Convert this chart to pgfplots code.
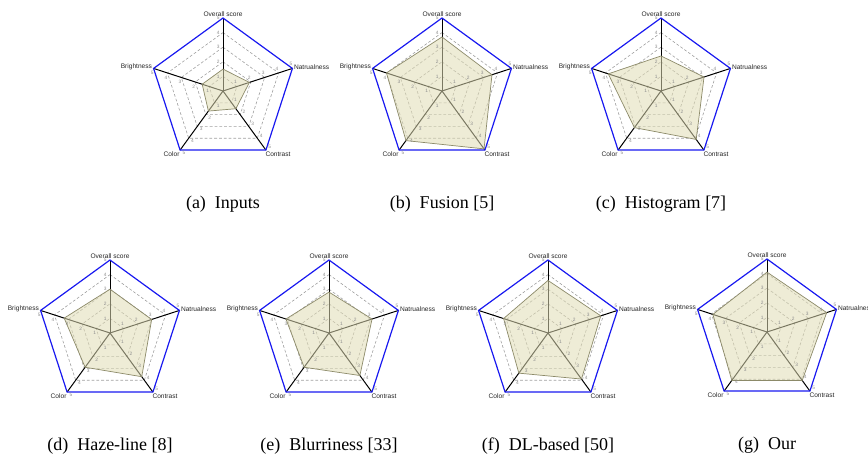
\documentclass[border=0pt]{standalone}
\usepackage{fontspec}
\setmainfont{Liberation Serif}
\newfontfamily\lsans{Liberation Sans}
\usepackage{pgfplots}
\pgfplotsset{compat=1.18}

\definecolor{fillol}{RGB}{224,220,180}
\definecolor{edgeol}{RGB}{140,138,105}
\definecolor{gridg}{RGB}{160,160,160}
\definecolor{outerblue}{RGB}{25,25,240}

\pgfplotsset{
  radar/.style={hide axis, x=7.3pt, y=7.3pt,
    xmin=-5.5, xmax=5.5, ymin=-5.5, ymax=5.5,
    clip=false, anchor=center},
}
\tikzset{
  tk/.style={font=\lsans\fontsize{2.4}{2.6}\selectfont, text=black!45, inner sep=0pt},
  lab/.style={font=\lsans\fontsize{3.3}{3.5}\selectfont, text=black!85, inner sep=0.6pt},
  grd/.style={gridg, line width=0.3pt, dash pattern=on 1.4pt off 1pt},
}

% tick number beside a spoke
\newcommand{\tklab}[2]{\node[tk] at (axis cs:{#2*cos(#1)+0.33*cos(#1+90)},{#2*sin(#1)+0.33*sin(#1+90)}) {#2};}

% #1,#2 centre in px; #3..#7 overall, naturalness, contrast, color, brightness; #8 caption
\newcommand{\radarpanel}[8]{%
\begin{axis}[radar, at={({#1*0.5pt},{(455-#2)*0.5pt})}]
  \pgfplotsinvokeforeach{1,2,3,4}{%
    \addplot[grd, data cs=polar] coordinates {(90,##1) (18,##1) (-54,##1) (-126,##1) (162,##1)} -- cycle;
  }
  \addplot[black, line width=0.5pt, data cs=polar] coordinates {(90,0) (90,5)};
  \addplot[black, line width=0.5pt, data cs=polar] coordinates {(18,0) (18,5)};
  \addplot[black, line width=0.5pt, data cs=polar] coordinates {(-54,0) (-54,5)};
  \addplot[black, line width=0.5pt, data cs=polar] coordinates {(-126,0) (-126,5)};
  \addplot[black, line width=0.5pt, data cs=polar] coordinates {(162,0) (162,5)};
  \addplot[outerblue, line width=0.6pt, data cs=polar] coordinates {(90,5) (18,5) (-54,5) (-126,5) (162,5)} -- cycle;
  \addplot[draw=edgeol, line width=0.35pt, fill=fillol, fill opacity=0.55, data cs=polar]
    coordinates {(90,#3) (18,#4) (-54,#5) (-126,#6) (162,#7)} -- cycle;
  \pgfplotsinvokeforeach{1,2,3,4,5}{%
    \tklab{90}{##1}\tklab{18}{##1}\tklab{-54}{##1}\tklab{-126}{##1}\tklab{162}{##1}
  }
  \node[lab, anchor=south] at (axis cs:0,5) {Overall score};
  \node[lab, anchor=south west, yshift=-1.2pt] at (axis cs:4.755,1.545) {Natrualness};
  \node[lab, anchor=north west, xshift=-1pt] at (axis cs:2.939,-4.045) {Contrast};
  \node[lab, anchor=north east, xshift=0.5pt] at (axis cs:-2.939,-4.045) {Color};
  \node[lab, anchor=south east, yshift=-1.5pt] at (axis cs:-4.755,1.545) {Brightness};
\end{axis}
\node[font=\fontsize{9}{10}\selectfont, inner sep=0pt] at ({#1*0.5pt},{(455-#2-113)*0.5pt}) {#8};
}

\begin{document}
\begin{tikzpicture}
\path[use as bounding box] (0,0) rectangle (434pt,227.5pt);
\radarpanel{223}{91}{1.5}{1.9}{1.5}{1.7}{1.5}{(a)~ Inputs}
\radarpanel{442}{91}{3.7}{3.6}{4.9}{4.2}{4.0}{(b)~ Fusion [5]}
\radarpanel{661}{91}{2.4}{3.1}{4.1}{3.1}{3.8}{(c)~ Histogram [7]}
\radarpanel{110}{333}{3.0}{3.0}{3.7}{2.9}{3.3}{(d)~ Haze-line [8]}
\radarpanel{329}{333}{2.8}{3.1}{3.6}{2.9}{3.1}{(e)~ Blurriness [33]}
\radarpanel{548}{333}{3.6}{3.8}{3.9}{3.4}{3.2}{(f)~ DL-based [50]}
\radarpanel{767}{332}{4.1}{4.3}{4.1}{4.1}{3.9}{(g)~ Our}
\end{tikzpicture}
\end{document}
